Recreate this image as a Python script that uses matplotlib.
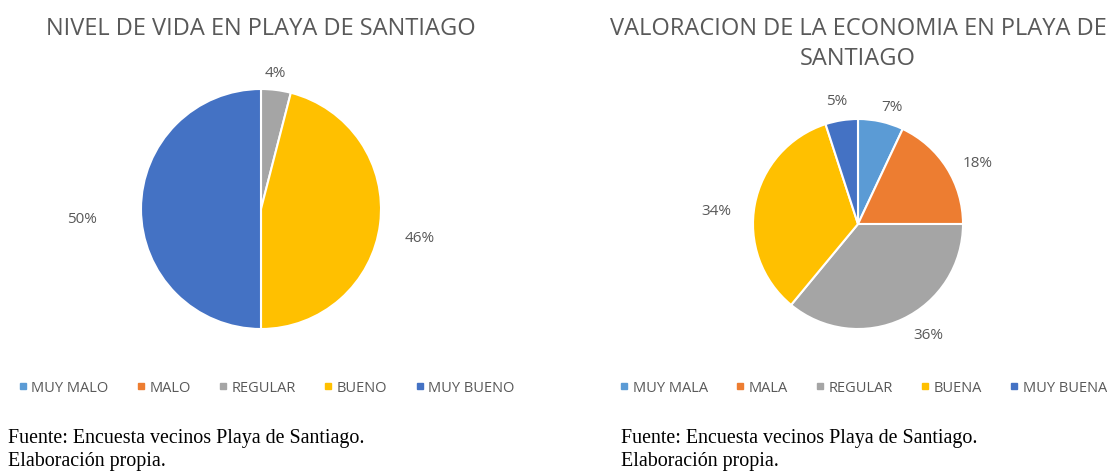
import numpy as np
import matplotlib
matplotlib.use("Agg")
import matplotlib.pyplot as plt
from matplotlib.lines import Line2D

W, H = 1107, 471

# data
vida_cats = ["MUY MALO", "MALO", "REGULAR", "BUENO", "MUY BUENO"]
vida_vals = [0, 0, 4, 46, 50]
eco_cats = ["MUY MALA", "MALA", "REGULAR", "BUENA", "MUY BUENA"]
eco_vals = [7, 18, 36, 34, 5]
colors = ["#5B9BD5", "#ED7D31", "#A5A5A5", "#FFC000", "#4472C4"]

vida_title = "NIVEL DE VIDA EN PLAYA DE SANTIAGO"
eco_title = "VALORACION DE LA ECONOMIA EN PLAYA DE\nSANTIAGO"
fuente = "Fuente: Encuesta vecinos Playa de Santiago.\nElaboración propia."

# data-label placement (radius units), like excel "best fit"
vida_lab_pos = [None, None, (0.12, 1.13), (1.32, -0.25), (-1.49, -0.09)]
eco_lab_pos = [(0.32, 1.11), (1.14, 0.58), (0.67, -1.06), (-1.35, 0.12), (-0.20, 1.17)]

TXT = "#595959"
SANS = "Open Sans"


def px_axes(fig, cx, cy, r):
    return fig.add_axes([(cx - r) / W, 1 - (cy + r) / H, 2 * r / W, 2 * r / H])


def draw_pie(ax, vals, lab_pos):
    wedges, texts, autos = ax.pie(
        vals, colors=colors, startangle=90, counterclock=False,
        autopct=lambda p: f"{p:.0f}%" if p > 0 else "", pctdistance=1.0,
        wedgeprops=dict(edgecolor="white", linewidth=1.5),
        textprops=dict(color=TXT, fontsize=11, family=SANS))
    for t, pos in zip(autos, lab_pos):
        if pos is not None:
            t.set_position(pos)
    ax.set_xlim(-1, 1)
    ax.set_ylim(-1, 1)
    ax.set_aspect("equal")
    ax.axis("off")


fig = plt.figure(figsize=(W / 100, H / 100), dpi=100, facecolor="white")

ax1 = px_axes(fig, 261, 209, 120)
draw_pie(ax1, vida_vals, vida_lab_pos)
ax2 = px_axes(fig, 858, 224, 105)
draw_pie(ax2, eco_vals, eco_lab_pos)

fig.text(261 / W, 1 - 29 / H, vida_title, ha="center", va="center",
         fontsize=17, color=TXT, family=SANS)
fig.text(858 / W, 1 - 44 / H, eco_title, ha="center", va="center",
         fontsize=17, color=TXT, family=SANS, linespacing=1.36)


def legend(cats, cx):
    handles = [Line2D([], [], marker="s", linestyle="", color=c, markersize=5)
               for c in colors]
    fig.legend(handles, cats, loc="center", ncol=5, frameon=False,
               bbox_to_anchor=(cx / W, 1 - 388 / H), handletextpad=0.1,
               columnspacing=1.7, handlelength=1.0,
               prop=dict(family=SANS, size=10.5), labelcolor=TXT)


legend(vida_cats, 265)
legend(eco_cats, 862)

for x in (8, 621):
    fig.text(x / W, 1 - 450 / H, fuente, ha="left", va="center",
             fontsize=14.4, color="black", family="Liberation Serif",
             linespacing=1.32)

fig.savefig("out.png", dpi=100, facecolor="white")
